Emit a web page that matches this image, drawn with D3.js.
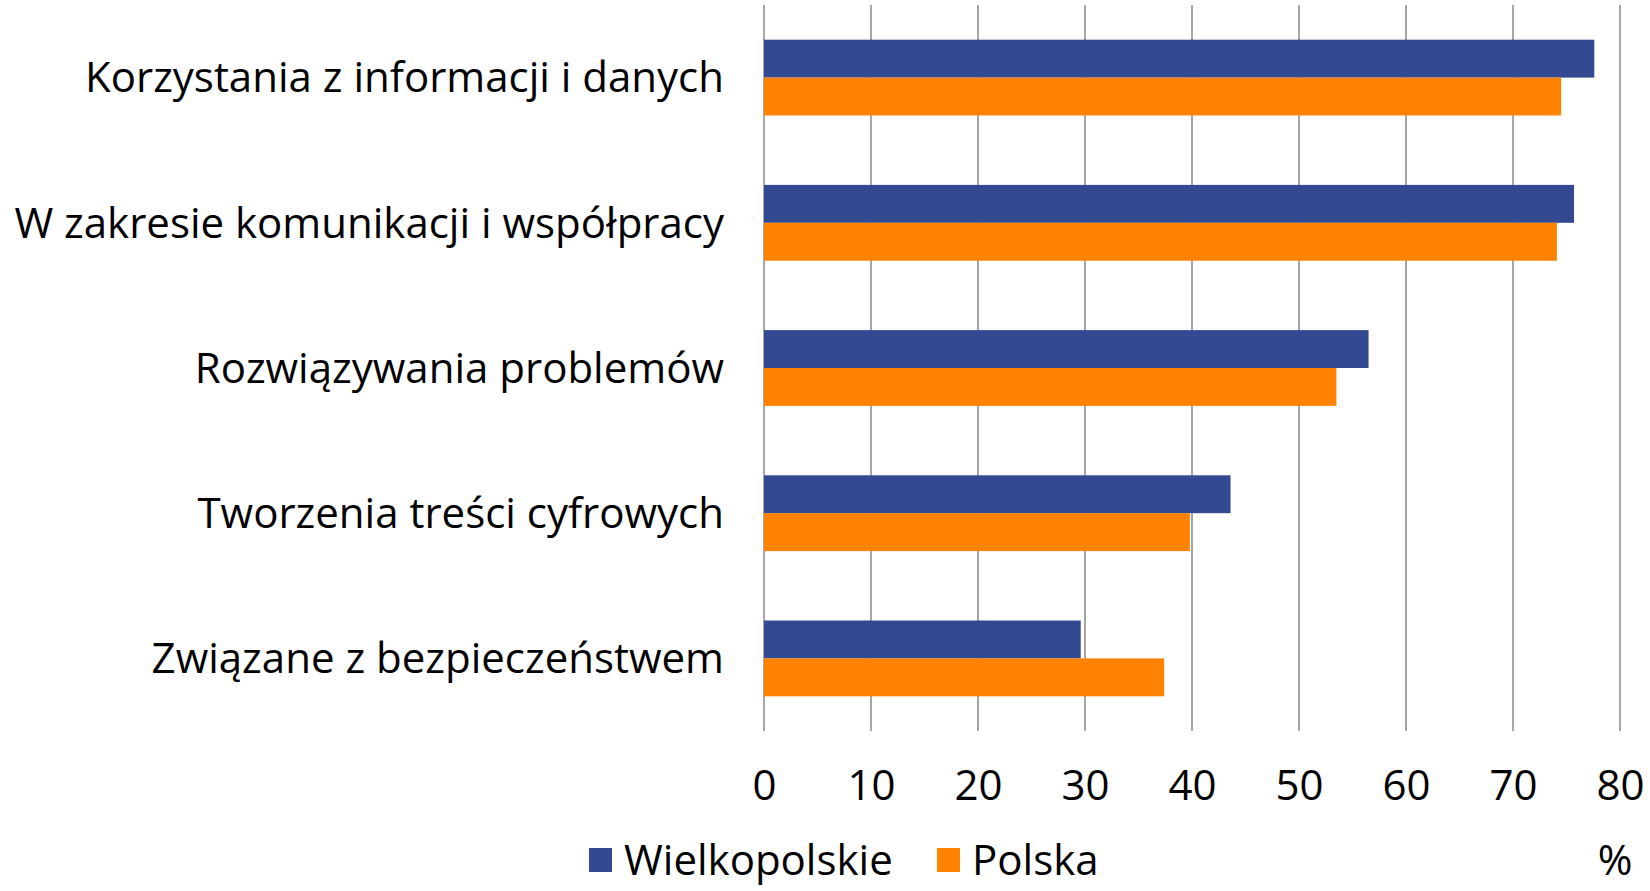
<!DOCTYPE html>
<html>
<head>
<meta charset="utf-8">
<script src="https://cdn.jsdelivr.net/npm/d3@7"></script>
<style>
  html, body { margin: 0; padding: 0; background: #ffffff; }
  svg text { font-family: 'Open Sans', sans-serif; fill: #000000; }
</style>
</head>
<body>
<main></main>
<script>
const categories = [
  'Korzystania z informacji i danych',
  'W zakresie komunikacji i współpracy',
  'Rozwiązywania problemów',
  'Tworzenia treści cyfrowych',
  'Związane z bezpieczeństwem'
]
const wielkopolskie = [77.6, 75.7, 56.5, 43.6, 29.6]
const polska = [74.5, 74.1, 53.5, 39.8, 37.4]
const seriesNames = ['Wielkopolskie', 'Polska']
const xTicks = [0, 10, 20, 30, 40, 50, 60, 70, 80]

const width = 1650
const height = 891
const plotLeft = 764
const plotRight = 1620
const plotTop = 5
const plotBottom = 731
const colors = ['#334a93', '#ff8200']
const fontSize = 42

const rows = categories.map((c, i) => ({ category: c, values: [wielkopolskie[i], polska[i]] }))

const svg = d3.select('main')
  .append('svg')
  .attr('width', width)
  .attr('height', height)
  .style('display', 'block')

const xScale = d3.scaleLinear()
  .domain([0, 80])
  .range([plotLeft, plotRight])

const yScale = d3.scaleBand()
  .domain(categories)
  .range([plotTop, plotBottom])

const barH = 37.9
const inner = d3.scaleBand()
  .domain([0, 1])
  .range([yScale.bandwidth() / 2 - barH, yScale.bandwidth() / 2 + barH])

// Gridlines
svg.append('g')
  .selectAll('line')
  .data(xTicks)
  .enter()
  .append('line')
  .attr('x1', d => xScale(d))
  .attr('x2', d => xScale(d))
  .attr('y1', plotTop)
  .attr('y2', plotBottom)
  .style('stroke', '#a6a6a6')
  .style('stroke-width', 2)

// Bars
const groups = svg.append('g')
  .selectAll('g')
  .data(rows)
  .enter()
  .append('g')
  .attr('transform', d => `translate(0, ${yScale(d.category)})`)

groups.selectAll('rect')
  .data(d => d.values)
  .enter()
  .append('rect')
  .attr('x', xScale(0))
  .attr('y', (d, i) => inner(i))
  .attr('width', d => xScale(d) - xScale(0))
  .attr('height', inner.bandwidth())
  .style('fill', (d, i) => colors[i])

// Category labels
svg.append('g')
  .selectAll('text')
  .data(categories)
  .enter()
  .append('text')
  .attr('x', 724)
  .attr('y', d => yScale(d) + yScale.bandwidth() / 2)
  .attr('dy', '0.35em')
  .style('text-anchor', 'end')
  .style('font-size', fontSize + 'px')
  .text(d => d)

// x axis labels
const xAxis = d3.axisBottom(xScale)
  .tickValues(xTicks)
  .tickSize(0)
  .tickPadding(0)

const axisG = svg.append('g')
  .attr('transform', `translate(0, 785)`)
  .call(xAxis)

axisG.select('.domain').remove()
axisG.selectAll('text')
  .attr('dy', '0.35em')
  .attr('y', 0)
  .style('font-size', fontSize + 'px')
  .style('font-family', "'Open Sans', sans-serif")
  .style('fill', '#000')

// Legend
const legendX = [589, 937]
const legend = svg.append('g')
  .selectAll('g')
  .data(seriesNames)
  .enter()
  .append('g')
  .attr('transform', (d, i) => `translate(${legendX[i]}, 860)`)

legend.append('rect')
  .attr('x', 0)
  .attr('y', -12)
  .attr('width', 23)
  .attr('height', 24)
  .style('fill', (d, i) => colors[i])

legend.append('text')
  .attr('x', 35)
  .attr('y', 0)
  .attr('dy', '0.35em')
  .style('font-size', fontSize + 'px')
  .text(d => d)

// Unit
svg.append('text')
  .attr('x', 1615)
  .attr('y', 860)
  .attr('dy', '0.35em')
  .style('text-anchor', 'middle')
  .style('font-size', fontSize + 'px')
  .text('%')
</script>
</body>
</html>
